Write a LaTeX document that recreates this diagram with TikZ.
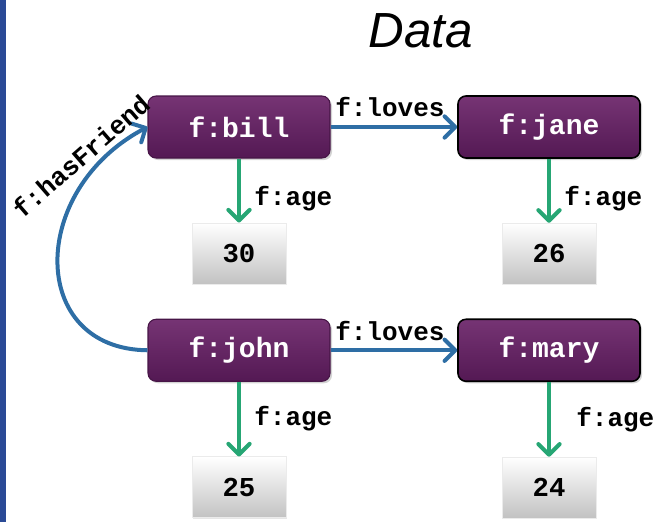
\documentclass[tikz,border=0pt]{standalone}
\usepackage{fontspec}
\setmainfont{Liberation Sans}
\newfontfamily\codefont{Liberation Mono}
\usetikzlibrary{positioning,arrows.meta,shadows}
\definecolor{rdfpurple}{RGB}{88,26,88}
\definecolor{rdfpurplelight}{RGB}{118,52,116}
\definecolor{rdfblue}{RGB}{46,110,165}
\definecolor{rdfgreen}{RGB}{38,166,116}
\definecolor{barblue}{RGB}{42,74,150}

\begin{document}
\begin{tikzpicture}[x=0.75pt, y=0.75pt, node distance=48pt and 95pt]
    \tikzstyle{res} = [rectangle, rounded corners=6pt, minimum width=136.5pt, minimum height=46.5pt,
        top color=rdfpurplelight, middle color=rdfpurple, bottom color=rdfpurple!95!black,
        draw=rdfpurple!80!black, line width=0.8pt, text=white,
        font=\codefont\bfseries\fontsize{21}{24}\selectfont,
        drop shadow={opacity=0.35, shadow xshift=1.5pt, shadow yshift=-1.5pt}]
    \tikzstyle{picked} = [draw=black, line width=1.2pt]
    \tikzstyle{lit} = [rectangle, minimum width=70.5pt, minimum height=45.75pt,
        top color=white, bottom color=black!24, draw=black!8,
        font=\codefont\bfseries\fontsize{20.5}{24}\selectfont,
        drop shadow={opacity=0.2, shadow xshift=1pt, shadow yshift=-1pt}]
    \tikzstyle{prop} = [line width=3pt, color=rdfblue, -{Straight Barb[round, length=8pt, width=16pt]}]
    \tikzstyle{agearrow} = [prop, color=rdfgreen]
    \tikzstyle{lbl} = [font=\codefont\bfseries\fontsize{19.5}{22}\selectfont, text=black, inner sep=2pt]

    \useasboundingbox (0,0) rectangle (654,-522);
    \fill[barblue] (0,0) rectangle (6,-522);

    \node[font=\fontsize{37}{40}\selectfont\itshape] (title) at (421,-31) {Data};

    \node[res] (bill) at (239,-127) {f:bill};
    \node[res, picked, right=of bill] (jane) {f:jane};
    \node[lit, below=of bill] (thirty) {30};
    \node[lit, below=of jane] (twentysix) {26};
    \node[res, below=26pt of thirty] (john) {f:john};
    \node[res, picked, right=of john] (mary) {f:mary};
    \node[lit, below=56pt of john] (twentyfive) {25};
    \node[lit, below=56pt of mary] (twentyfour) {24};

    \draw[prop] (bill) -- node[lbl, above=4pt, xshift=-3pt] {f:loves} (jane);
    \draw[prop] (john) -- node[lbl, above=4pt, xshift=-3pt] {f:loves} (mary);
    \draw[agearrow] (bill) -- node[lbl, right=8pt, pos=0.63] {f:age} (thirty);
    \draw[agearrow] (jane) -- node[lbl, right=8pt, pos=0.63] {f:age} (twentysix);
    \draw[agearrow] (john) -- node[lbl, right=8pt] {f:age} (twentyfive);
    \draw[agearrow] (mary) -- node[lbl, right=17pt] {f:age} (twentyfour);

    \draw[prop] (john.west) .. controls (28,-349) and (28,-190) .. (bill.west);
    \node[lbl, rotate=41] (friend) at (81,-156) {f:hasFriend};
\end{tikzpicture}
\end{document}
